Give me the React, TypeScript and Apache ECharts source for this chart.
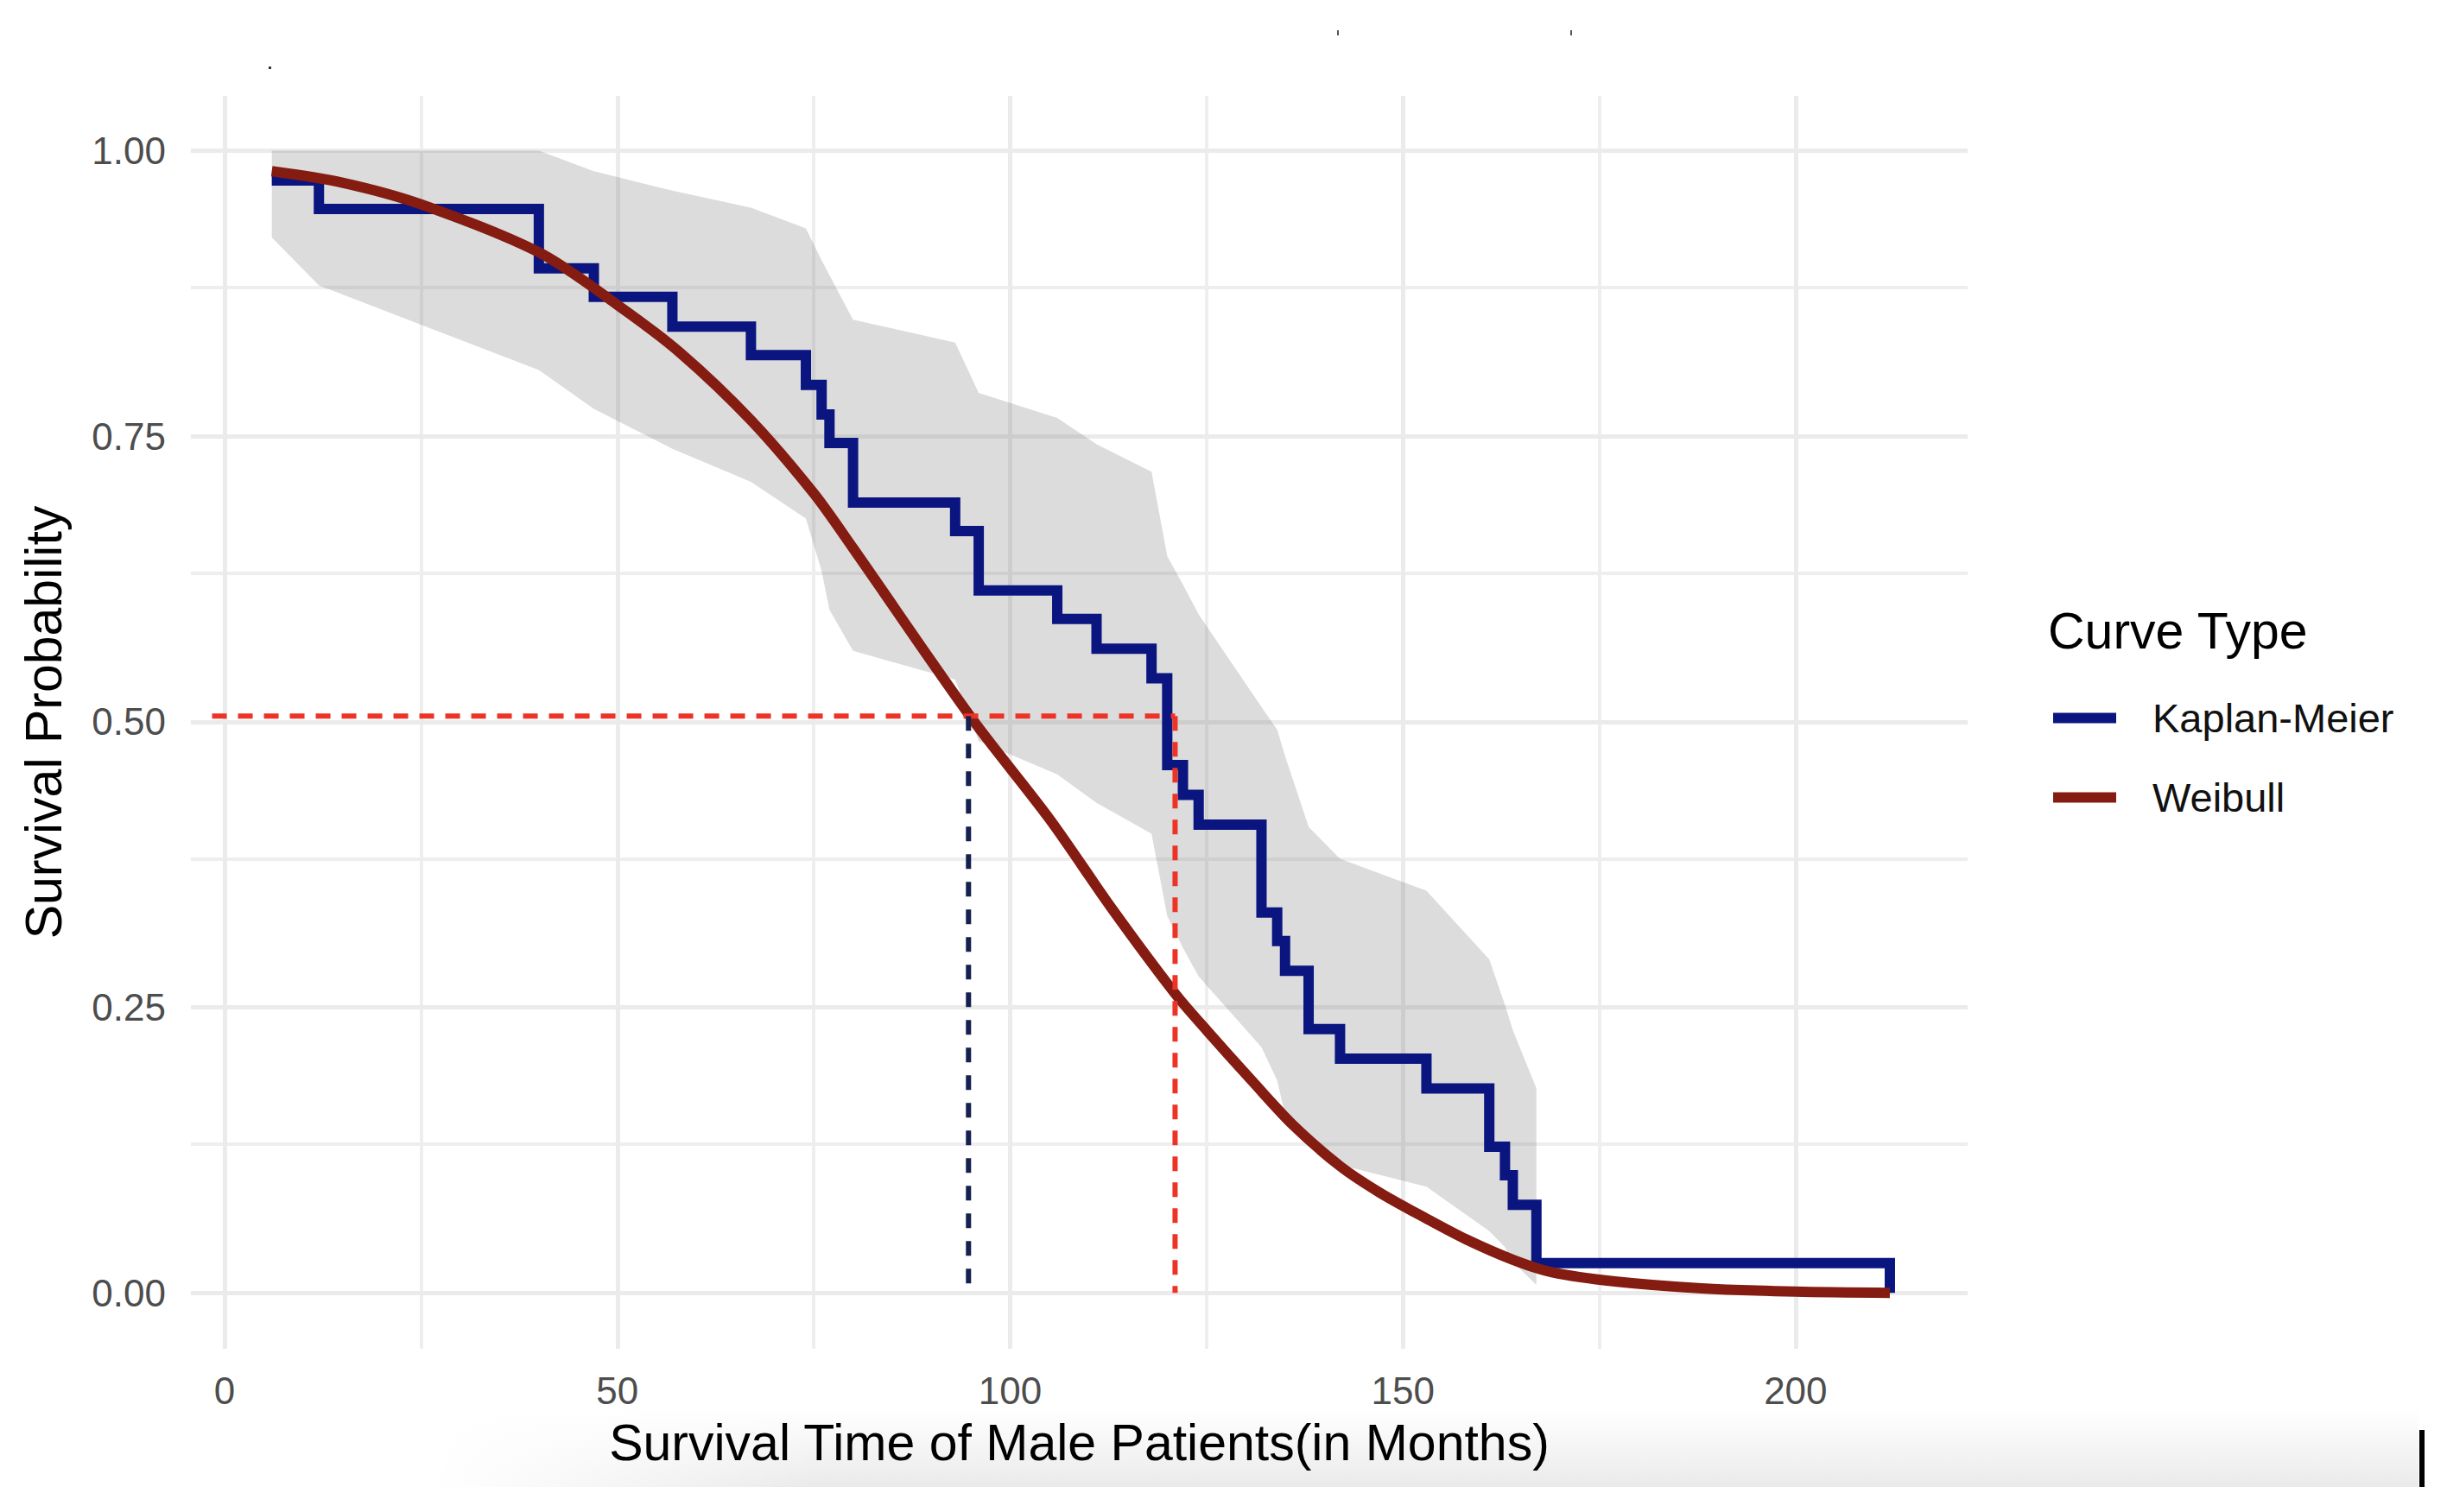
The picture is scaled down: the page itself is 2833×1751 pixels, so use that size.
import { useEffect, useRef } from "react";
import * as echarts from "echarts";

// Kaplan-Meier estimate (male patients), time in months
const kmTimes = [6, 12, 40, 47, 57, 67, 74, 76, 77, 80, 93, 96, 106, 111, 118, 120, 122, 124, 132, 134, 135, 138, 142, 153, 161, 163, 164, 167, 212];
const kmSurv = [0.974, 0.949, 0.897, 0.872, 0.846, 0.821, 0.795, 0.769, 0.744, 0.692, 0.667, 0.615, 0.59, 0.564, 0.538, 0.462, 0.436, 0.41, 0.333, 0.308, 0.282, 0.231, 0.205, 0.179, 0.128, 0.103, 0.077, 0.026, 0.0];

// confidence band of the KM curve
const ciTimes = [6, 12, 40, 47, 57, 67, 74, 76, 77, 80, 93, 96, 106, 111, 118, 120, 122, 124, 132, 134, 135, 138, 142, 153, 161, 163, 164, 167];
const ciUpper = [1.0, 1.0, 1.0, 0.982, 0.965, 0.95, 0.932, 0.904, 0.891, 0.852, 0.832, 0.788, 0.766, 0.743, 0.719, 0.645, 0.62, 0.594, 0.513, 0.493, 0.47, 0.408, 0.38, 0.352, 0.292, 0.252, 0.23, 0.179];
const ciLower = [0.924, 0.882, 0.808, 0.774, 0.739, 0.71, 0.678, 0.632, 0.598, 0.562, 0.537, 0.483, 0.454, 0.429, 0.402, 0.33, 0.302, 0.277, 0.215, 0.186, 0.156, 0.139, 0.112, 0.093, 0.054, 0.04, 0.027, 0.007];

// fitted Weibull survival curve
const weibullTimes = [6, 15, 25, 40, 50, 58, 67, 75, 80, 95, 105, 113, 121, 125, 131, 136, 142, 147, 153, 158, 164, 169, 177, 188, 200, 212];
const weibullSurv = [0.982, 0.972, 0.953, 0.911, 0.865, 0.823, 0.764, 0.7, 0.652, 0.504, 0.415, 0.336, 0.262, 0.23, 0.184, 0.147, 0.111, 0.088, 0.065, 0.047, 0.029, 0.018, 0.01, 0.004, 0.001, 0.0];

// median markers
const medianLevel = 0.505;
const medianKM = 121;
const medianWeibull = 94.7;
const medianLineStart = -1.6;

const xMajor = [0, 50, 100, 150, 200];
const xMinor = [25, 75, 125, 175];
const yMajor = [0, 0.25, 0.5, 0.75, 1];
const yMinor = [0.125, 0.375, 0.625, 0.875];

const FONT = "'Liberation Sans', Arial, Helvetica, sans-serif";
const KM_COLOR = "#0a1580";
const WEIBULL_COLOR = "#841c12";
const RED_DASH = "#ec3326";
const NAVY_DASH = "#14214f";

export default function App() {
  const ref = useRef<HTMLDivElement>(null);

  useEffect(() => {
    document.body.style.margin = "0";
    document.body.style.overflow = "hidden";
    if (!ref.current) return;
    const chart = echarts.init(ref.current, undefined, { renderer: "svg" });

    const gridLines = [
      ...xMinor.map((v) => ({ xAxis: v, lineStyle: { width: 4, color: "#eeeeee", type: "solid" } })),
      ...yMinor.map((v) => ({ yAxis: v, lineStyle: { width: 4, color: "#eeeeee", type: "solid" } })),
      ...xMajor.map((v) => ({ xAxis: v, lineStyle: { width: 5, color: "#ebebeb", type: "solid" } })),
      ...yMajor.map((v) => ({ yAxis: v, lineStyle: { width: 5, color: "#ebebeb", type: "solid" } })),
    ];

    const dashed = (name: string, color: string, dash: number[], data: number[][]) => ({
      name,
      type: "line",
      silent: true,
      z: 6,
      showSymbol: false,
      symbol: "none",
      lineStyle: { color, width: 6, type: dash },
      data,
    });

    chart.setOption({
      animation: false,
      backgroundColor: "#ffffff",
      textStyle: { fontFamily: FONT },
      grid: { left: 221, right: 555, top: 111, bottom: 189 },
      title: {
        text: "Curve Type",
        left: 2371,
        top: 701,
        padding: 0,
        textStyle: { fontSize: 59, fontWeight: "normal", color: "#000000", fontFamily: FONT },
      },
      legend: {
        data: ["Kaplan-Meier", "Weibull"],
        orient: "vertical",
        left: 2377,
        top: 808,
        padding: 0,
        itemGap: 45,
        itemWidth: 73,
        itemHeight: 12,
        icon: "rect",
        textStyle: { fontSize: 47, color: "#111111", fontFamily: FONT, padding: [0, 0, 0, 37] },
      },
      xAxis: {
        type: "value",
        min: -4.3,
        max: 221.9,
        name: "Survival Time of Male Patients(in Months)",
        nameLocation: "middle",
        nameGap: 79,
        nameTextStyle: { fontSize: 59, color: "#000000", fontFamily: FONT },
        axisLine: { show: false },
        axisTick: { show: false },
        splitLine: { show: false },
        axisLabel: {
          customValues: xMajor,
          fontSize: 44,
          color: "#4d4d4d",
          margin: 26,
          fontFamily: FONT,
        },
      },
      yAxis: {
        type: "value",
        min: -0.049,
        max: 1.048,
        name: "Survival Probability",
        nameLocation: "middle",
        nameGap: 141,
        nameTextStyle: { fontSize: 59, color: "#000000", fontFamily: FONT },
        axisLine: { show: false },
        axisTick: { show: false },
        splitLine: { show: false },
        axisLabel: {
          customValues: yMajor,
          formatter: (v: number) => v.toFixed(2),
          fontSize: 44,
          color: "#4d4d4d",
          margin: 29,
          fontFamily: FONT,
        },
      },
      graphic: [
        {
          type: "rect",
          z: -10,
          silent: true,
          shape: { x: 500, y: 1630, width: 2300, height: 92 },
          style: {
            fill: new echarts.graphic.LinearGradient(0, 0, 0, 1, [
              { offset: 0, color: "rgba(236,236,236,0)" },
              { offset: 1, color: "rgba(234,234,234,1)" },
            ]),
          },
        },
        {
          type: "rect",
          z: -9,
          silent: true,
          shape: { x: 500, y: 1630, width: 450, height: 92 },
          style: {
            fill: new echarts.graphic.LinearGradient(0, 0, 1, 0, [
              { offset: 0, color: "rgba(255,255,255,1)" },
              { offset: 1, color: "rgba(255,255,255,0)" },
            ]),
          },
        },
        { type: "rect", silent: true, shape: { x: 2801, y: 1656, width: 6, height: 66 }, style: { fill: "#000000" } },
        { type: "rect", silent: true, shape: { x: 311, y: 77, width: 3, height: 3 }, style: { fill: "#333333" } },
        { type: "rect", silent: true, shape: { x: 1548, y: 35, width: 2, height: 6 }, style: { fill: "#555555" } },
        { type: "rect", silent: true, shape: { x: 1818, y: 35, width: 2, height: 6 }, style: { fill: "#555555" } },
      ],
      series: [
        {
          name: "grid",
          type: "line",
          data: [],
          silent: true,
          z: 0,
          markLine: {
            silent: true,
            z: 0,
            symbol: ["none", "none"],
            label: { show: false },
            emphasis: { disabled: true },
            data: gridLines,
          },
        },
        {
          name: "ciBand",
          type: "custom",
          silent: true,
          z: 2,
          encode: { x: 0, y: [1, 2] },
          data: ciTimes.map((t, i) => [t, ciUpper[i], ciLower[i]]),
          renderItem: (params: any, api: any) => {
            if (params.dataIndex !== 0) return null;
            const upper = ciTimes.map((t, i) => api.coord([t, ciUpper[i]]));
            const lower = ciTimes.map((t, i) => api.coord([t, ciLower[i]])).reverse();
            return {
              type: "polygon",
              shape: { points: [...upper, ...lower] },
              style: { fill: "rgba(128,128,128,0.28)" },
            };
          },
        },
        {
          name: "Kaplan-Meier",
          type: "line",
          step: "end",
          color: KM_COLOR,
          z: 3,
          showSymbol: false,
          symbol: "none",
          lineStyle: { color: KM_COLOR, width: 12, join: "miter" },
          data: kmTimes.map((t, i) => [t, kmSurv[i]]),
        },
        {
          name: "Weibull",
          type: "line",
          smooth: 0.3,
          color: WEIBULL_COLOR,
          z: 4,
          showSymbol: false,
          symbol: "none",
          lineStyle: { color: WEIBULL_COLOR, width: 12 },
          data: weibullTimes.map((t, i) => [t, weibullSurv[i]]),
        },
        dashed("medianH", RED_DASH, [17, 13], [
          [medianLineStart, medianLevel],
          [medianKM, medianLevel],
        ]),
        dashed("medianKM", RED_DASH, [17, 13], [
          [medianKM, medianLevel],
          [medianKM, 0],
        ]),
        dashed("medianWeibull", NAVY_DASH, [17, 15], [
          [medianWeibull, medianLevel],
          [medianWeibull, 0],
        ]),
      ],
    });

    return () => chart.dispose();
  }, []);

  return <div ref={ref} style={{ width: 2833, height: 1751 }} />;
}
